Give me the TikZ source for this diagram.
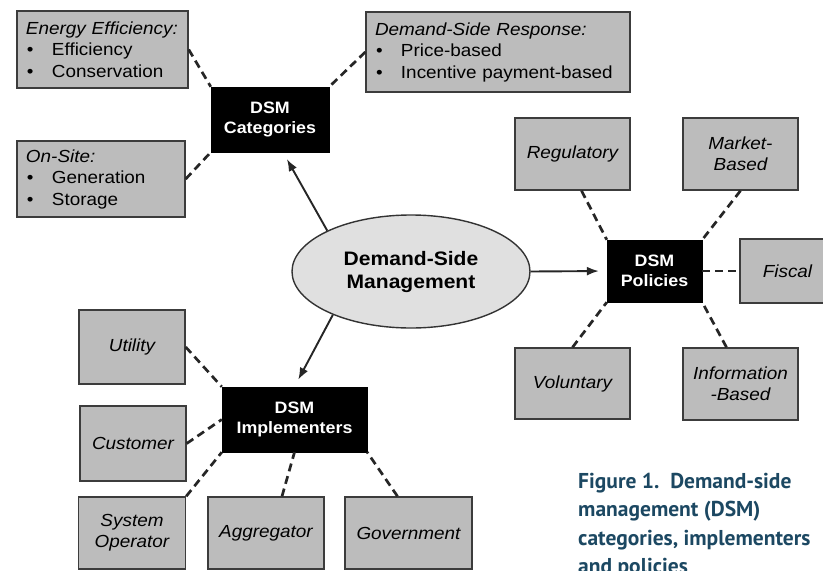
\documentclass[tikz,border=0pt]{standalone}
\usepackage{fontspec}
\setmainfont{Liberation Sans}[FakeStretch=1.08]
\newfontfamily\captionfont{PT Sans}
\usetikzlibrary{shapes,arrows,arrows.meta,positioning,calc}
\definecolor{boxgray}{RGB}{188,188,188}
\definecolor{hubgray}{RGB}{224,224,224}
\definecolor{edgegray}{RGB}{60,60,60}
\definecolor{captionblue}{RGB}{28,72,98}
\newcommand{\dsmbullet}{\makebox[26pt][l]{\hspace{1pt}\textbullet}}

\begin{document}
\begin{tikzpicture}[
    x=1pt, y=-1pt,
    box/.style={draw=edgegray, line width=1.4pt, fill=boxgray, minimum width=115pt, minimum height=72pt, inner sep=2pt, align=center, font=\fontsize{17.5}{21}\selectfont\itshape},
    listbox/.style={draw=edgegray, line width=1.4pt, fill=boxgray, inner xsep=9pt, inner ysep=2pt, align=left, font=\fontsize{17.5}{21.5}\selectfont},
    dsmbox/.style={draw=black, fill=black, text=white, minimum height=65pt, inner sep=2pt, align=center, font=\fontsize{16.5}{20}\selectfont\bfseries},
    hub/.style={ellipse, draw=black!80, line width=1.4pt, fill=hubgray, minimum width=238pt, minimum height=113pt, align=center, font=\fontsize{19.5}{23}\selectfont\bfseries},
    link/.style={draw=black!85, line width=2.7pt, dash pattern=on 8pt off 5pt},
    push/.style={-{Latex[length=12pt,width=9pt]}, line width=1.9pt, draw=black!85, shorten >=8pt}
]

\path[use as bounding box, fill=white] (0,0) rectangle (823,571);

% Centre
\node[hub] (dsm) at (411,271.5) {Demand-Side\\Management};

% Categories
\node[dsmbox, minimum width=118pt] (cat) at (270,119.5) {DSM\\Categories};
\node[listbox, text width=153pt, minimum height=77pt] (ee) at (102.5,49.5) {\textit{Energy Efficiency:}\\\dsmbullet Efficiency\\\dsmbullet Conservation};
\node[listbox, text width=150pt, minimum height=76pt] (onsite) at (101,179) {\textit{On-Site:}\\\dsmbullet Generation\\\dsmbullet Storage};
\node[listbox, text width=246pt, minimum height=80pt] (dsr) at (498,52) {\textit{Demand-Side Response:}\\\dsmbullet Price-based\\\dsmbullet Incentive payment-based};

% Policies
\node[dsmbox, minimum width=95pt, minimum height=62pt] (pol) at (654.5,271) {DSM\\Policies};
\node[box] (reg) at (572.5,154) {Regulatory};
\node[box] (mkt) at (740.5,154) {Market-\\Based};
\node[box, minimum width=95pt, minimum height=64pt] (fis) at (787.5,271) {Fiscal};
\node[box, minimum height=71pt] (vol) at (572.5,383.5) {Voluntary};
\node[box] (info) at (740.5,384) {Information\\-Based};

% Implementers
\node[dsmbox, minimum width=145pt] (impl) at (294.5,419.5) {DSM\\Implementers};
\node[box, minimum width=106pt, minimum height=74pt] (util) at (132,347) {Utility};
\node[box, minimum width=106pt, minimum height=75pt] (cust) at (133,443.5) {Customer};
\node[box, minimum width=107pt] (sysop) at (132,533) {System\\Operator};
\node[box, minimum width=116pt] (aggr) at (266,533) {Aggregator};
\node[box, minimum width=127pt] (gov) at (408.5,533) {Government};

% Caption
\node[anchor=north west, align=left, inner sep=0pt, text=captionblue, font=\captionfont\bfseries\fontsize{21.5}{28.3}\selectfont] (caption) at (578,473) {Figure 1.\ \ Demand-side\\management (DSM)\\categories, implementers\\and policies};

% Connections
\draw[push] (dsm.154) -- ([xshift=13pt]cat.south);
\draw[push] (dsm.east) -- (pol.west);
\draw[push] (dsm.209) -- (impl.north);

\draw[link] (ee.east) -- (cat.north west);
\draw[link] (onsite.east) -- (cat.south west);
\draw[link] (dsr.west) -- (cat.north east);

\draw[link] ([xshift=9pt]reg.south) -- (pol.north west);
\draw[link] (mkt.south) -- (pol.north east);
\draw[link] (pol.east) -- (fis.west);
\draw[link] (vol.north) -- (pol.south west);
\draw[link] ([xshift=-14pt]info.north) -- (pol.south east);

\draw[link] (util.east) -- (impl.north west);
\draw[link] (cust.east) -- (impl.west);
\draw[link] (sysop.north east) -- (impl.south west);
\draw[link] ([xshift=16pt]aggr.north) -- (impl.south);
\draw[link] ([xshift=-11pt]gov.north) -- (impl.south east);

\end{tikzpicture}
\end{document}
